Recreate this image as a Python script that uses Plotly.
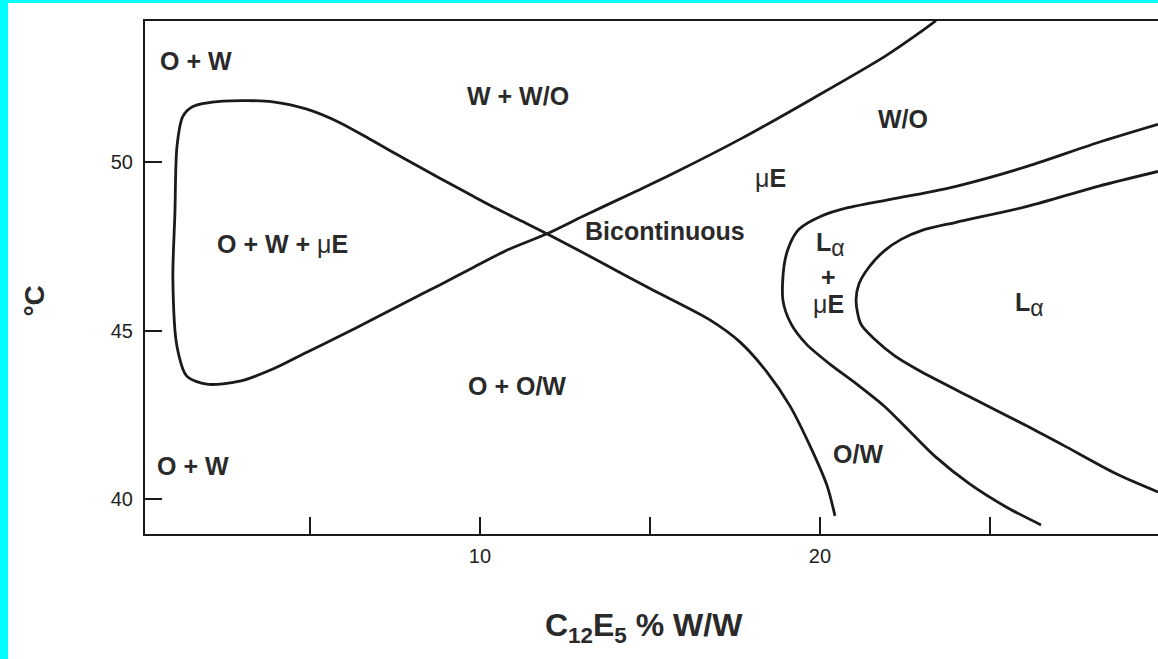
import plotly.graph_objects as go

# ---- data (composition % w/w C12E5, temperature °C) ----
phase_curve_x = [20.44, 20.21, 19.71, 19.12, 18.44, 17.65, 16.76, 15.0, 13.53, 11.97,
                 11.26, 10.5, 9.79, 8.82, 7.85, 6.85, 5.88, 4.91, 3.91, 2.44, 1.56,
                 1.26, 1.09, 1.03, 0.97, 1.09, 1.38, 1.97, 2.94, 3.91, 4.91, 5.88,
                 6.85, 7.85, 8.82, 9.79, 10.79, 11.97, 13.03, 14.5, 15.62, 17.71,
                 19.79, 21.91, 22.94, 23.41]
phase_curve_y = [39.5, 40.39, 41.57, 42.76, 43.77, 44.66, 45.32, 46.25, 47.05, 47.88,
                 48.24, 48.62, 49.0, 49.53, 50.07, 50.64, 51.18, 51.58, 51.8, 51.82, 51.66,
                 51.36, 50.47, 48.5, 46.53, 44.54, 43.65, 43.41, 43.5, 43.86, 44.36, 44.84,
                 45.34, 45.86, 46.36, 46.87, 47.39, 47.88, 48.4, 49.1, 49.64, 50.72,
                 51.9, 53.15, 53.86, 54.21]

la_outer_x = [29.94, 28.18, 26.09, 24.0, 22.35, 20.85, 20.03, 19.38, 19.09, 18.94,
              18.91, 19.15, 19.6, 20.3, 21.1, 21.9, 22.6, 23.4, 24.4, 25.5, 26.5]
la_outer_y = [51.13, 50.59, 49.88, 49.29, 48.95, 48.66, 48.4, 48.01, 47.51, 46.91,
              45.9, 45.2, 44.6, 44.0, 43.4, 42.75, 42.05, 41.25, 40.45, 39.75, 39.23]

la_inner_x = [29.94, 28.18, 26.09, 24.0, 23.0, 22.4, 21.9, 21.45, 21.15, 21.06,
              21.2, 21.6, 22.2, 22.94, 24.53, 26.09, 27.15, 28.71, 29.94]
la_inner_y = [49.73, 49.29, 48.69, 48.22, 47.98, 47.72, 47.38, 46.9, 46.4, 45.9,
              45.2, 44.75, 44.25, 43.8, 42.97, 42.17, 41.6, 40.75, 40.21]

ALPHA = "<sub><span style='font-size:23px'>α</span></sub>"
label_text = ["<b>O + W</b>", "<b>W + W/O</b>", "<b>W/O</b>", "μ<b>E</b>",
              "<b>Bicontinuous</b>", "<b>O + W + </b>μ<b>E</b>", "<b>L</b>" + ALPHA,
              "<b>+</b>", "μ<b>E</b>", "<b>L</b>" + ALPHA, "<b>O + O/W</b>",
              "<b>O/W</b>", "<b>O + W</b>"]
label_x = [0.53, 11.12, 22.44, 18.53, 15.44, 4.18, 20.3, 20.24, 20.24, 26.15, 11.09, 21.12, 0.44]
label_y = [53.0, 51.96, 51.28, 49.55, 47.95, 47.57, 47.57, 46.59, 45.79, 45.79, 43.35, 41.34, 40.98]
label_anchor = ["left", "center", "center", "center", "center", "center", "center",
                "center", "center", "center", "center", "center", "left"]

x_tickvals = [10, 20]
x_ticktext = ["10", "20"]
x_minor_ticks = [5, 15, 25]
y_tickvals = [40, 45, 50]
y_ticktext = ["40", "45", "50"]

x_range = [0.15, 29.94]
y_range = [38.96, 54.2]

FONT = "Liberation Sans, Arial, Helvetica, sans-serif"
INK = "#1a1a1a"

fig = go.Figure()
for xs, ys in [(phase_curve_x, phase_curve_y), (la_outer_x, la_outer_y), (la_inner_x, la_inner_y)]:
    fig.add_trace(go.Scatter(x=xs, y=ys, mode="lines",
                             line=dict(color=INK, width=2.8, shape="spline", smoothing=0.8),
                             hoverinfo="skip", showlegend=False, cliponaxis=True))

annotations = []
for t, x, y, a in zip(label_text, label_x, label_y, label_anchor):
    annotations.append(dict(x=x, y=y, xref="x", yref="y", text=t, showarrow=False,
                            xanchor=a, yanchor="middle",
                            font=dict(family=FONT, size=25, color="#2a2a2a")))

# axis titles
annotations.append(dict(x=0.4926, y=-0.182, xref="paper", yref="paper",
                        text="<b>C<sub>12</sub>E<sub>5</sub> % W/W</b>", showarrow=False,
                        xanchor="center", yanchor="middle",
                        font=dict(family=FONT, size=32, color="#2a2a2a")))
annotations.append(dict(x=-0.1086, y=0.455, xref="paper", yref="paper",
                        text="<b>°C</b>", showarrow=False, textangle=-90,
                        xanchor="center", yanchor="middle",
                        font=dict(family=FONT, size=28, color="#2a2a2a")))

# cyan frame of the scanned page
shapes = [
    dict(type="rect", xref="paper", yref="paper", x0=-0.1432, x1=1.0, y0=1.0351, y1=1.045,
         fillcolor="#00FFFF", line=dict(width=0), layer="below"),
    dict(type="rect", xref="paper", yref="paper", x0=-0.1432, x1=-0.1352, y0=-0.25, y1=1.045,
         fillcolor="#00FFFF", line=dict(width=0), layer="below"),
]

fig.update_layout(
    width=1158, height=659,
    margin=dict(l=145, r=0, t=21, b=125, pad=0),
    paper_bgcolor="white", plot_bgcolor="white",
    showlegend=False,
    annotations=annotations,
    shapes=shapes,
    xaxis=dict(range=x_range, tickvals=x_tickvals, ticktext=x_ticktext,
               ticks="inside", ticklen=17, tickwidth=2, tickcolor=INK,
               minor=dict(tickvals=x_minor_ticks, ticks="inside", ticklen=17,
                          tickwidth=2, tickcolor=INK, showgrid=False),
               showline=True, linecolor=INK, linewidth=2, mirror=True,
               showgrid=False, zeroline=False,
               tickfont=dict(family=FONT, size=20, color="#222"), ticklabelstandoff=3),
    yaxis=dict(range=y_range, tickvals=y_tickvals, ticktext=y_ticktext,
               ticks="inside", ticklen=17, tickwidth=2, tickcolor=INK,
               showline=True, linecolor=INK, linewidth=2,
               showgrid=False, zeroline=False,
               tickfont=dict(family=FONT, size=20, color="#222"), ticklabelstandoff=6),
)

fig.write_html("out.html", config={"displayModeBar": False})
